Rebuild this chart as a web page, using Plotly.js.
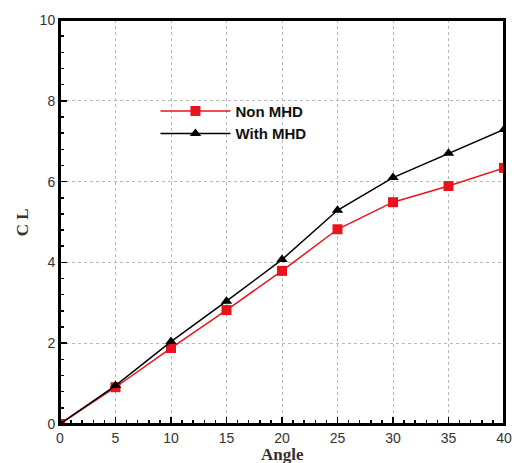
<!DOCTYPE html>
<html>
<head>
<meta charset="utf-8">
<script src="https://cdn.plot.ly/plotly-3.0.1.min.js"></script>
<style>html,body{margin:0;padding:0;background:#fff;overflow:hidden;}#chart{width:516px;height:463px;}</style>
</head>
<body>
<div id="chart"></div>
<script>
const angles = [0, 5, 10, 15, 20, 25, 30, 35, 40];
const nonMHD = [0, 0.91, 1.88, 2.82, 3.79, 4.82, 5.49, 5.89, 6.34];
const withMHD = [0, 0.95, 2.04, 3.04, 4.07, 5.29, 6.10, 6.70, 7.29];
const seriesNames = ["Non MHD", "With MHD"];
const xTitle = "Angle";
const yTitle = "C L";

const traces = [
  {x: angles, y: nonMHD, name: seriesNames[0], mode: "lines+markers",
   line: {color: "#e8141c", width: 1.5},
   marker: {symbol: "square", size: 10, color: "#e8141c"}},
  {x: angles, y: withMHD, name: seriesNames[1], mode: "lines+markers",
   line: {color: "#000000", width: 1.5},
   marker: {symbol: "triangle-up", size: 10, color: "#000000"}}
];

const axisCommon = {
  showline: true, linecolor: "#000", linewidth: 2, mirror: true,
  ticks: "inside", tickcolor: "#000", tickwidth: 1.5, ticklen: 7,
  showgrid: true, gridcolor: "#b8b8b8", griddash: "dot", gridwidth: 1,
  zeroline: false,
  tickfont: {family: "Arial, Liberation Sans, sans-serif", size: 14, color: "#333"}
};
const titleFont = {family: "Times New Roman, Liberation Serif, serif", size: 17, color: "#333", weight: "bold"};

const layout = {
  width: 516, height: 463,
  margin: {l: 60, r: 12, t: 20, b: 39},
  paper_bgcolor: "#fff", plot_bgcolor: "#fff",
  showlegend: true,
  legend: {x: 0.215, y: 0.815, xanchor: "left", yanchor: "top",
    bgcolor: "rgba(255,255,255,0)", borderwidth: 0, tracegroupgap: 0,
    itemwidth: 70,
    font: {family: "Arial, Liberation Sans, sans-serif", size: 15, color: "#111", weight: "bold"}},
  xaxis: Object.assign({}, axisCommon, {
    range: [0, 40], dtick: 5, tick0: 0,
    minor: {dtick: 1, ticks: "inside", ticklen: 4, tickcolor: "#000", showgrid: false}
  }),
  yaxis: Object.assign({}, axisCommon, {
    range: [0, 10], dtick: 2, tick0: 0,
    minor: {dtick: 0.4, ticks: "inside", ticklen: 4, tickcolor: "#000", showgrid: false}
  }),
  shapes: [
    {type: "rect", xref: "paper", yref: "paper", x0: 0, x1: 1, y0: 0, y1: 1,
     line: {color: "#000", width: 2}, fillcolor: "rgba(0,0,0,0)", layer: "above"}
  ],
  annotations: [
    {text: xTitle, xref: "paper", yref: "paper", x: 0.5, y: -0.076, xanchor: "center", yanchor: "middle",
     showarrow: false, font: titleFont},
    {text: yTitle, xref: "paper", yref: "paper", x: -0.085, y: 0.5, xanchor: "center", yanchor: "middle",
     textangle: -90, showarrow: false, font: titleFont}
  ]
};

Plotly.newPlot("chart", traces, layout, {displayModeBar: false, staticPlot: true});
</script>
</body>
</html>
